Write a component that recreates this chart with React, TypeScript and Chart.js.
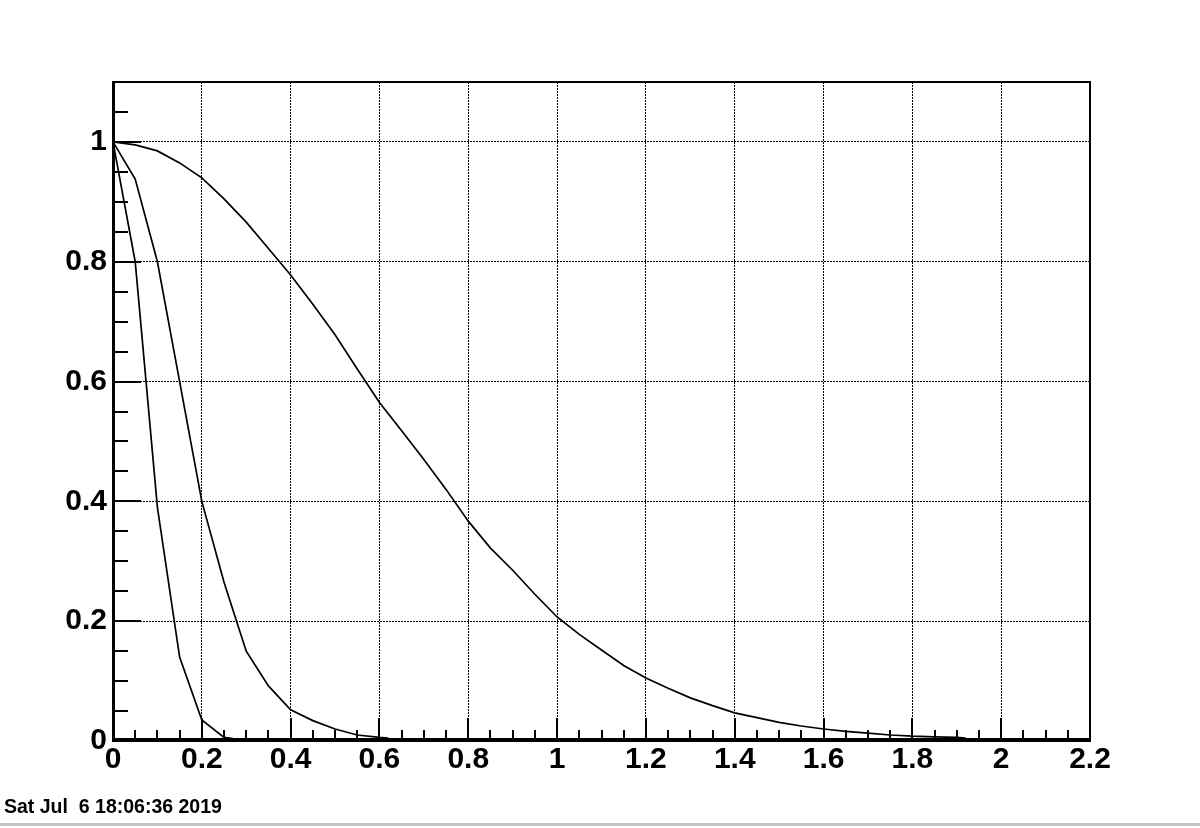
import React, { useEffect, useRef } from 'react';
import { Chart, registerables } from 'chart.js';

Chart.register(...registerables);

// ---- data ----
const narrowX = [0, 0.05, 0.1, 0.15, 0.2, 0.25, 0.27];
const narrowY = [1.0, 0.8, 0.39, 0.14, 0.035, 0.006, 0.004];

const middleX = [0, 0.05, 0.1, 0.15, 0.2, 0.25, 0.3, 0.35, 0.4, 0.45, 0.5, 0.55, 0.6, 0.62];
const middleY = [1.0, 0.938, 0.8, 0.6, 0.4, 0.265, 0.15, 0.092, 0.052, 0.034, 0.02, 0.01, 0.006, 0.005];

const wideX = [
  0, 0.05, 0.1, 0.15, 0.2, 0.25, 0.3, 0.35, 0.4, 0.45, 0.5, 0.55, 0.6, 0.65, 0.7, 0.75,
  0.8, 0.85, 0.9, 0.95, 1.0, 1.05, 1.1, 1.15, 1.2, 1.25, 1.3, 1.35, 1.4, 1.45, 1.5, 1.55,
  1.6, 1.65, 1.7, 1.75, 1.8, 1.85, 1.9, 1.92,
];
const wideY = [
  1.0, 0.995, 0.985, 0.965, 0.94, 0.905, 0.866, 0.822, 0.778, 0.729, 0.678, 0.621, 0.565, 0.518, 0.47, 0.42,
  0.367, 0.322, 0.285, 0.245, 0.207, 0.178, 0.152, 0.126, 0.105, 0.088, 0.072, 0.059, 0.047, 0.039, 0.031, 0.025,
  0.02, 0.016, 0.013, 0.01, 0.008, 0.007, 0.006, 0.005,
];

// ---- axes ----
const xMin = 0;
const xMax = 2.2;
const yMin = 0;
const yMax = 1.1;
const majorStep = 0.2;
const minorStep = 0.05;
const xMajorLabels = ['0', '0.2', '0.4', '0.6', '0.8', '1', '1.2', '1.4', '1.6', '1.8', '2', '2.2'];
const yMajorLabels = ['0', '0.2', '0.4', '0.6', '0.8', '1'];
const footerText = 'Sat Jul  6 18:06:36 2019';

function buildTicks(min: number, max: number) {
  const n = Math.round((max - min) / minorStep);
  const out: { value: number }[] = [];
  for (let i = 0; i <= n; i++) out.push({ value: Math.round((min + i * minorStep) * 1000) / 1000 });
  return out;
}
function majorIndex(v: number): number {
  const r = v / majorStep;
  return Math.abs(r - Math.round(r)) < 1e-6 ? Math.round(r) : -1;
}
function toPoints(xs: number[], ys: number[]) {
  return xs.map((x, i) => ({ x, y: ys[i] }));
}

const rootAxesPlugin = {
  id: 'rootAxes',
  afterDatasetsDraw(chart: any) {
    const { ctx, chartArea: a, scales } = chart;
    const xs = scales.x;
    const ys = scales.y;
    ctx.save();
    ctx.strokeStyle = '#000';
    ctx.fillStyle = '#000';
    ctx.lineWidth = 2;
    ctx.setLineDash([]);
    ctx.beginPath();
    xs.ticks.forEach((t: any) => {
      const px = Math.round(xs.getPixelForValue(t.value));
      const len = majorIndex(t.value) >= 0 ? 23 : 11;
      ctx.moveTo(px, a.bottom);
      ctx.lineTo(px, a.bottom - len);
    });
    ys.ticks.forEach((t: any) => {
      const py = Math.round(ys.getPixelForValue(t.value));
      const len = majorIndex(t.value) >= 0 ? 28 : 15;
      ctx.moveTo(a.left, py);
      ctx.lineTo(a.left + len, py);
    });
    ctx.stroke();
    ctx.lineWidth = 2;
    ctx.strokeRect(a.left, a.top, a.right - a.left, a.bottom - a.top);
    // heavier axis lines (bottom and left), as drawn over the frame
    ctx.fillRect(a.left - 1, a.bottom - 3, a.right - a.left + 2, 4);
    ctx.fillRect(a.left - 1, a.top, 3, a.bottom - a.top);
    ctx.restore();
  },
};

export default function App() {
  const canvasRef = useRef<HTMLCanvasElement | null>(null);

  useEffect(() => {
    if (!canvasRef.current) return;
    const tickFont = { family: '"Liberation Sans", Arial, Helvetica, sans-serif', size: 30, weight: 'bold' as const };
    const lineStyle = {
      borderColor: '#000',
      borderWidth: 1.7,
      pointRadius: 0,
      tension: 0,
      fill: false,
    };
    const chart = new Chart(canvasRef.current, {
      type: 'line',
      data: {
        datasets: [
          { label: 'narrow', data: toPoints(narrowX, narrowY), ...lineStyle },
          { label: 'middle', data: toPoints(middleX, middleY), ...lineStyle },
          { label: 'wide', data: toPoints(wideX, wideY), ...lineStyle },
        ],
      },
      options: {
        animation: false,
        responsive: false,
        devicePixelRatio: 1,
        layout: { padding: { top: 82, right: 110, left: 0, bottom: 0 } },
        plugins: {
          legend: { display: false },
          tooltip: { enabled: false },
          title: { display: false },
        },
        scales: {
          x: {
            type: 'linear',
            min: xMin,
            max: xMax,
            afterBuildTicks: (scale: any) => {
              scale.ticks = buildTicks(xMin, xMax);
            },
            afterFit: (scale: any) => {
              scale.height = 87;
            },
            grid: {
              drawTicks: false,
              lineWidth: 1,
              color: (c: any) => (c.tick && majorIndex(c.tick.value) >= 0 ? '#000' : 'rgba(0,0,0,0)'),
            },
            border: { display: false, dash: [2, 1] },
            ticks: {
              autoSkip: false,
              maxRotation: 0,
              minRotation: 0,
              padding: 1,
              color: '#000',
              font: tickFont,
              callback: (v: any) => {
                const i = majorIndex(Number(v));
                return i >= 0 ? xMajorLabels[i] ?? '' : '';
              },
            },
          },
          y: {
            type: 'linear',
            min: yMin,
            max: yMax,
            afterBuildTicks: (scale: any) => {
              scale.ticks = buildTicks(yMin, yMax);
            },
            afterFit: (scale: any) => {
              scale.width = 113;
            },
            grid: {
              drawTicks: false,
              lineWidth: 1,
              color: (c: any) => {
                if (!c.tick) return 'rgba(0,0,0,0)';
                const i = majorIndex(c.tick.value);
                return i >= 0 && i < yMajorLabels.length ? '#000' : 'rgba(0,0,0,0)';
              },
            },
            border: { display: false, dash: [2, 1] },
            ticks: {
              autoSkip: false,
              padding: 6,
              color: '#000',
              font: tickFont,
              callback: (v: any) => {
                const i = majorIndex(Number(v));
                return i >= 0 ? yMajorLabels[i] ?? '' : '';
              },
            },
          },
        },
      },
      plugins: [rootAxesPlugin],
    } as any);
    return () => chart.destroy();
  }, []);

  return (
    <div style={{ position: 'fixed', left: 0, top: 0, width: 1200, height: 828, background: '#fff', overflow: 'hidden' }}>
      <canvas ref={canvasRef} width={1200} height={828} style={{ position: 'absolute', left: 0, top: 0, width: 1200, height: 828 }} />
      <div
        style={{
          position: 'absolute',
          left: 4,
          top: 797,
          fontFamily: '"Liberation Sans", Arial, Helvetica, sans-serif',
          fontWeight: 'bold',
          fontSize: 19.5,
          lineHeight: '19.5px',
          whiteSpace: 'pre',
          color: '#000',
        }}
      >
        {footerText}
      </div>
      <div style={{ position: 'absolute', left: 0, top: 823, width: 1200, height: 3, background: '#c4c4c4' }} />
    </div>
  );
}
